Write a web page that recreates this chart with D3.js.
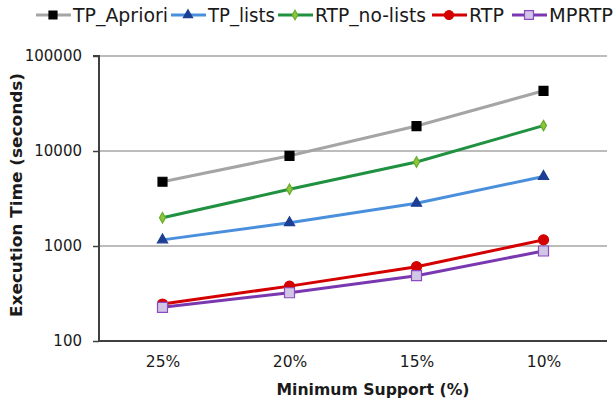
<!DOCTYPE html>
<html>
<head>
<meta charset="utf-8">
<script src="https://cdn.jsdelivr.net/npm/d3@7"></script>
<style>
	body { margin:0; background:#fff; }
	svg text { font-family:"DejaVu Sans", sans-serif; fill:#1a1a1a; }
</style>
</head>
<body>
<svg id="chart" width="613" height="401"></svg>
<script>
// chart data
const categories = ['25%','20%','15%','10%'];
const seriesNames = ['TP_Apriori','TP_lists','RTP_no-lists','RTP','MPRTP'];
const tpApriori  = [4750, 8900, 18300, 43000];
const tpLists    = [1160, 1760, 2820, 5400];
const rtpNoLists = [1980, 3950, 7650, 18500];
const rtp        = [245, 378, 605, 1160];
const mprtp      = [226, 322, 487, 886];
const yTicks = [100, 1000, 10000, 100000];

const values = [tpApriori, tpLists, rtpNoLists, rtp, mprtp];
const styles = [
	{line:'#a5a5a5', fill:'#000000', stroke:'#000000', shape:d3.symbolSquare, size:80},
	{line:'#4a8fdc', fill:'#1c3f94', stroke:'#1c3f94', shape:d3.symbolTriangle, size:45},
	{line:'#1f9140', fill:'#8cc63f', stroke:'#6aaa2a', shape:d3.symbolDiamond, size:32},
	{line:'#d40000', fill:'#d40000', stroke:'#d40000', shape:d3.symbolCircle, size:80},
	{line:'#7a38b0', fill:'#d2c6e6', stroke:'#8a4cc0', shape:d3.symbolSquare, size:100}
];

const svg = d3.select('#chart');
const margin = {top:56, right:6, bottom:60, left:99};
const W = +svg.attr('width');
const H = +svg.attr('height');

const xScale = d3.scalePoint()
	.domain(categories)
	.range([margin.left, W - margin.right])
	.padding(0.5);

const yScale = d3.scaleLog()
	.domain([100, 100000])
	.range([H - margin.bottom, margin.top]);

// gridlines
svg.append('g')
	.selectAll('line').data(yTicks.slice(1)).enter().append('line')
	.attr('x1', margin.left).attr('x2', W - margin.right)
	.attr('y1', d=>yScale(d)).attr('y2', d=>yScale(d))
	.attr('stroke', '#a6a6a6').attr('stroke-width', 1.3);

// y axis
const yAxisG = svg.append('g')
	.attr('transform', `translate(${margin.left},0)`)
	.call(d3.axisLeft(yScale).tickValues(yTicks).tickFormat(d3.format('d')).tickSize(6).tickPadding(11));
yAxisG.select('.domain').attr('stroke', '#404040').attr('stroke-width', 2).attr('d', `M-6,${margin.top}H0V${H - margin.bottom}`);
yAxisG.selectAll('.tick line').attr('stroke', '#404040').attr('stroke-width', 1.5);
yAxisG.selectAll('.tick text').attr('font-size', 15).attr('fill', '#1a1a1a')
	.attr('font-family', '"DejaVu Sans", sans-serif');

// x axis
const xAxisG = svg.append('g')
	.attr('transform', `translate(0,${H - margin.bottom})`)
	.call(d3.axisBottom(xScale).tickSize(0).tickPadding(15));
xAxisG.select('.domain').attr('stroke', '#404040').attr('stroke-width', 2)
	.attr('d', `M${margin.left},0H${W - margin.right}`);
xAxisG.selectAll('.tick text').attr('font-size', 15.5).attr('fill', '#1a1a1a')
	.attr('font-family', '"DejaVu Sans", sans-serif');

// axis titles
svg.append('text')
	.attr('x', 373)
	.attr('y', 395)
	.attr('text-anchor', 'middle')
	.attr('font-size', 16).attr('font-weight', 'bold')
	.attr('textLength', 193).attr('lengthAdjust', 'spacingAndGlyphs')
	.text('Minimum Support (%)');

svg.append('text')
	.attr('transform', `translate(22,195) rotate(-90)`)
	.attr('text-anchor', 'middle')
	.attr('font-size', 16).attr('font-weight', 'bold')
	.attr('textLength', 244).attr('lengthAdjust', 'spacingAndGlyphs')
	.text('Execution Time (seconds)');

// lines and markers
const lineGenerator = d3.line()
	.x((d,i)=>xScale(categories[i]))
	.y(d=>yScale(d));

values.forEach((vals, s) => {
	const st = styles[s];
	svg.append('path')
		.attr('d', lineGenerator(vals))
		.attr('fill', 'none')
		.attr('stroke', st.line)
		.attr('stroke-width', 3);
	svg.append('g').selectAll('path').data(vals).enter().append('path')
		.attr('transform', (d,i)=>`translate(${xScale(categories[i])},${yScale(d)})`)
		.attr('d', d3.symbol().type(st.shape).size(st.size))
		.attr('fill', st.fill)
		.attr('stroke', st.stroke)
		.attr('stroke-width', 1.2);
});

// legend
const legendX = [36, 171, 278, 432, 512];
const legendW = [95, 67, 111, 35, 64];
const legendY = 15;
seriesNames.forEach((name, s) => {
	const st = styles[s];
	const g = svg.append('g').attr('transform', `translate(${legendX[s]},${legendY})`);
	g.append('line')
		.attr('x1', 0).attr('x2', 35).attr('y1', 0).attr('y2', 0)
		.attr('stroke', st.line).attr('stroke-width', 3);
	g.append('path')
		.attr('transform', 'translate(17,0)')
		.attr('d', d3.symbol().type(st.shape).size(st.size*0.8))
		.attr('fill', st.fill).attr('stroke', st.stroke).attr('stroke-width', 1.2);
	g.append('text')
		.attr('x', 37).attr('y', 7)
		.attr('font-size', 19)
		.attr('textLength', legendW[s]).attr('lengthAdjust', 'spacingAndGlyphs')
		.text(name);
});
</script>
</body>
</html>
